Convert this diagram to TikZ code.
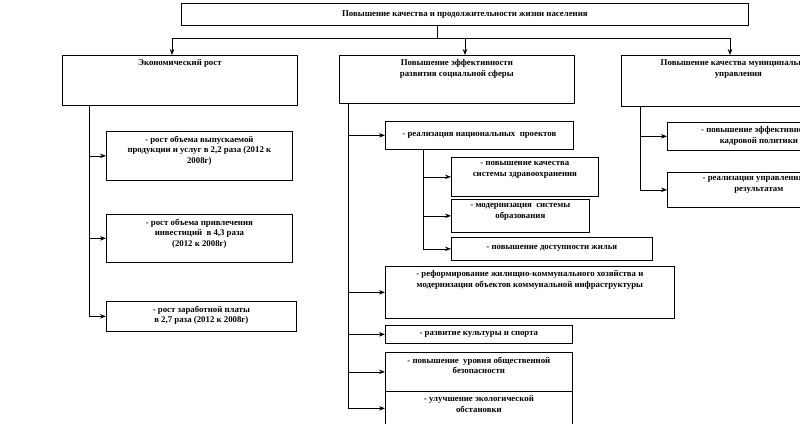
\documentclass[tikz,border=0pt]{standalone}
\usepackage{fontspec}
\setmainfont{Liberation Serif}
\usetikzlibrary{arrows.meta}
\tikzset{
  bx/.style={draw=black, line width=0.7pt, inner sep=0pt, rectangle},
  txt/.style={font=\bfseries\fontsize{8.8}{10.8}\selectfont, align=center, inner sep=1pt},
  ln/.style={draw=black, line width=0.7pt},
  arr/.style={ln, -{Stealth[length=6pt,width=4.5pt]}}
}
\newcommand\tbox[6]{%
  \node[bx, minimum width=#4pt, minimum height=#5pt, anchor=north west] (#1) at (#2,#3) {};
  \node[txt, anchor=north] (#1t) at ([yshift=-3.5pt]#1.north) {#6};}
\newcommand\cbox[6]{%
  \node[bx, txt, minimum width=#4pt, minimum height=#5pt, anchor=north west] (#1) at (#2,#3) {#6};}
\begin{document}
\begin{tikzpicture}[x=1pt,y=-1pt]
\path[use as bounding box] (0,0) rectangle (800,423);
\clip (0,0) rectangle (800,423);
% top
\cbox{top}{181}{3}{567}{22}{Повышение качества и продолжительности жизни населения}
% level 1
\tbox{econ}{62}{55}{235}{50}{Экономический рост}
\tbox{soc}{339}{55}{235}{48}{Повышение эффективности\\развития социальной сферы}
\tbox{mun}{621}{55}{234}{51}{Повышение качества муниципального\\управления}
% left branch
\tbox{e1}{106}{131}{186}{49}{- рост объема выпускаемой\\продукции и услуг в 2,2 раза (2012 к\\2008г)}
\tbox{e2}{106}{214}{186}{48}{- рост объема привлечения\\инвестиций \ в 4,3 раза\\(2012 к 2008г)}
\tbox{e3}{106}{301}{190}{30}{- рост заработной платы\\в 2,7 раза (2012 к 2008г)}
% middle branch
\cbox{np}{385}{121}{188}{28}{- реализация национальных \ проектов}
\tbox{hl}{451}{157}{147}{39}{- повышение качества\\системы здравоохранения}
\tbox{ed}{451}{199}{138}{33}{- модернизация \ системы\\образования}
\cbox{hs}{451}{237}{201}{23}{- повышение доступности жилья}
\tbox{gkh}{385}{266}{289}{52}{- реформирование жилищно-коммунального хозяйства и\\модернизация объектов коммунальной инфраструктуры}
\cbox{cul}{385}{325}{187}{18}{- развитие культуры и спорта}
\tbox{saf}{385}{352}{187}{39}{- повышение \ уровня общественной\\безопасности}
\tbox{eco}{385}{391}{187}{34}{- улучшение экологической\\обстановки}
% right branch
\tbox{r1}{667}{122}{183}{28}{- повышение эффективности\\кадровой политики}
\tbox{r2}{667}{172}{183}{35}{- реализация управления по\\результатам}
% connectors top
\coordinate (jt) at (437,38);
\coordinate (ja) at (172,38);
\coordinate (jb) at (465,38);
\coordinate (jc) at (730,38);
\draw[ln] (top.south -| jt) -- (jt);
\draw[ln] (ja) -- (jc);
\draw[arr] (ja) -- (ja |- econ.north);
\draw[arr] (jb) -- (jb |- soc.north);
\draw[arr] (jc) -- (jc |- mun.north);
% left
\coordinate (lx) at (89,0);
\draw[ln] (econ.south -| lx) -- (lx |- e3.west);
\foreach \n in {e1,e2,e3} \draw[arr] (lx |- \n.west) -- (\n.west);
% middle
\coordinate (mx) at (348,0);
\draw[ln] (soc.south -| mx) -- (mx |- eco.west);
\foreach \n in {np,gkh,cul,saf,eco} \draw[arr] (mx |- \n.west) -- (\n.west);
\coordinate (sx) at (423,0);
\draw[ln] (np.south -| sx) -- (sx |- hs.west);
\foreach \n in {hl,ed,hs} \draw[arr] (sx |- \n.west) -- (\n.west);
% right
\coordinate (rx) at (640,0);
\draw[ln] (mun.south -| rx) -- (rx |- r2.west);
\foreach \n in {r1,r2} \draw[arr] (rx |- \n.west) -- (\n.west);
\end{tikzpicture}
\end{document}
